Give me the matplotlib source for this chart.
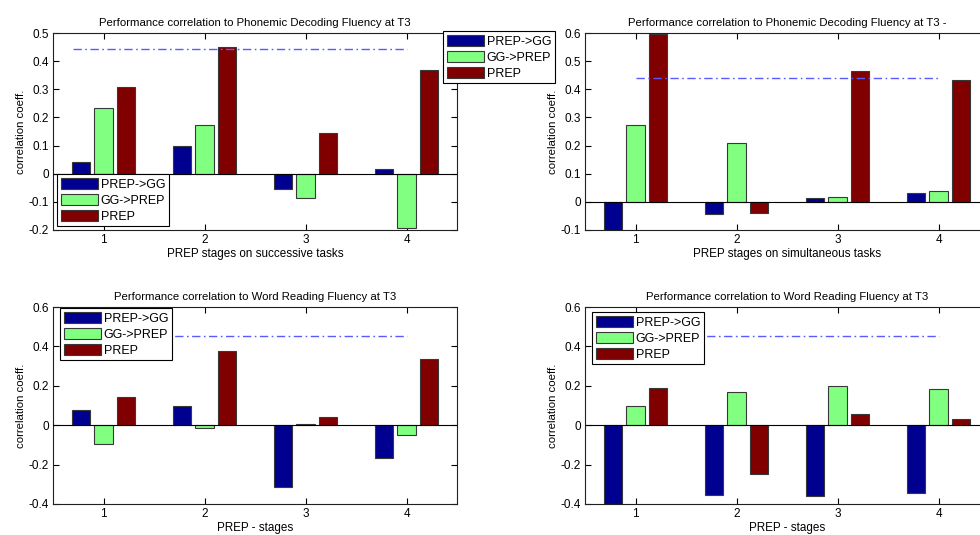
import numpy as np
import matplotlib
matplotlib.use('Agg')
import matplotlib.pyplot as plt

plt.rcParams['font.family'] = ['Liberation Sans', 'DejaVu Sans']

# data
stages = [1, 2, 3, 4]
series = ['PREP->GG', 'GG->PREP', 'PREP']
colors = ['#000090', '#80ff80', '#800000']

succ_phon = [[0.043, 0.100, -0.056, 0.018],
             [0.232, 0.173, -0.087, -0.192],
             [0.308, 0.450, 0.145, 0.368]]
simu_phon = [[-0.100, -0.044, 0.015, 0.032],
             [0.273, 0.208, 0.019, 0.037],
             [0.598, -0.038, 0.466, 0.432]]
word_left = [[0.075, 0.095, -0.312, -0.168],
             [-0.095, -0.014, 0.005, -0.049],
             [0.142, 0.375, 0.044, 0.336]]
word_right = [[-0.400, -0.353, -0.358, -0.344],
              [0.097, 0.168, 0.197, 0.183],
              [0.188, -0.249, 0.058, 0.031]]

crit = [0.443, 0.44, 0.454, 0.454]
crit_start = [0.7, 1.0, 0.7, 0.7]

titles = ['Performance correlation to Phonemic Decoding Fluency at T3',
          'Performance correlation to Phonemic Decoding Fluency at T3 -',
          'Performance correlation to Word Reading Fluency at T3',
          'Performance correlation to Word Reading Fluency at T3']
xlabels = ['PREP stages on successive tasks', 'PREP stages on simultaneous tasks',
           'PREP - stages', 'PREP - stages']
ylims = [(-0.2, 0.5), (-0.1, 0.6), (-0.4, 0.6), (-0.4, 0.6)]
ysteps = [0.1, 0.1, 0.2, 0.2]
datas = [succ_phon, simu_phon, word_left, word_right]

W, H = 980, 535
fig = plt.figure(figsize=(W / 100, H / 100), dpi=100)

# axes boxes in pixels: left, top, right, bottom
boxes = [(53, 33, 457, 230), (585, 33, 989, 230),
         (53, 307, 457, 504), (585, 307, 989, 504)]
# legend upper-left corners in pixels
leg_pos = [(57, 174), (443, 31), (60, 308), (592, 312)]

x = np.array(stages, dtype=float)
offs = [-0.225, 0, 0.225]

for i in range(4):
    l, t, r, b = boxes[i]
    ax = fig.add_axes([l / W, 1 - b / H, (r - l) / W, (b - t) / H])
    handles = []
    for k in range(3):
        h = ax.bar(x + offs[k], datas[i][k], width=0.18, color=colors[k],
                   edgecolor='#383838', linewidth=0.8, label=series[k], zorder=2)
        handles.append(h)
    ax.axhline(0, color='k', lw=0.8, zorder=3)
    ax.plot([crit_start[i], 4.0], [crit[i], crit[i]], color='#5a5aff', lw=1,
            dashes=[6, 2.5, 1.2, 2.5], zorder=3)
    ax.set_xlim(0.5, 4.5)
    lo, hi = ylims[i]
    ax.set_ylim(lo, hi)
    ax.set_xticks(stages)
    yt = np.round(np.arange(lo, hi + 1e-9, ysteps[i]), 2)
    ax.set_yticks(yt)
    ax.set_yticklabels(['0' if v == 0 else ('%g' % v) for v in yt])
    ax.tick_params(direction='in', top=True, right=True, length=4, labelsize=8.5, pad=3)
    for s in ax.spines.values():
        s.set_color('#202020')
        s.set_linewidth(0.8)
    ax.set_title(titles[i], fontsize=8.2, pad=5)
    ax.set_xlabel(xlabels[i], fontsize=8.4, labelpad=1)
    ax.set_ylabel('correlation coeff.', fontsize=8.2, labelpad=2)
    px, py = leg_pos[i]
    leg = ax.legend(handles=handles, loc='upper left', bbox_to_anchor=(px / W, 1 - py / H),
                    bbox_transform=fig.transFigure, fontsize=9, fancybox=False,
                    framealpha=1, edgecolor='k', borderpad=0.3, borderaxespad=0,
                    handlelength=3.0, handleheight=1.0, labelspacing=0.25,
                    handletextpad=0.2)
    leg.get_frame().set_linewidth(0.8)
    leg.set_zorder(10)
    leg.set_clip_on(False)

fig.savefig('out.png', dpi=100)
